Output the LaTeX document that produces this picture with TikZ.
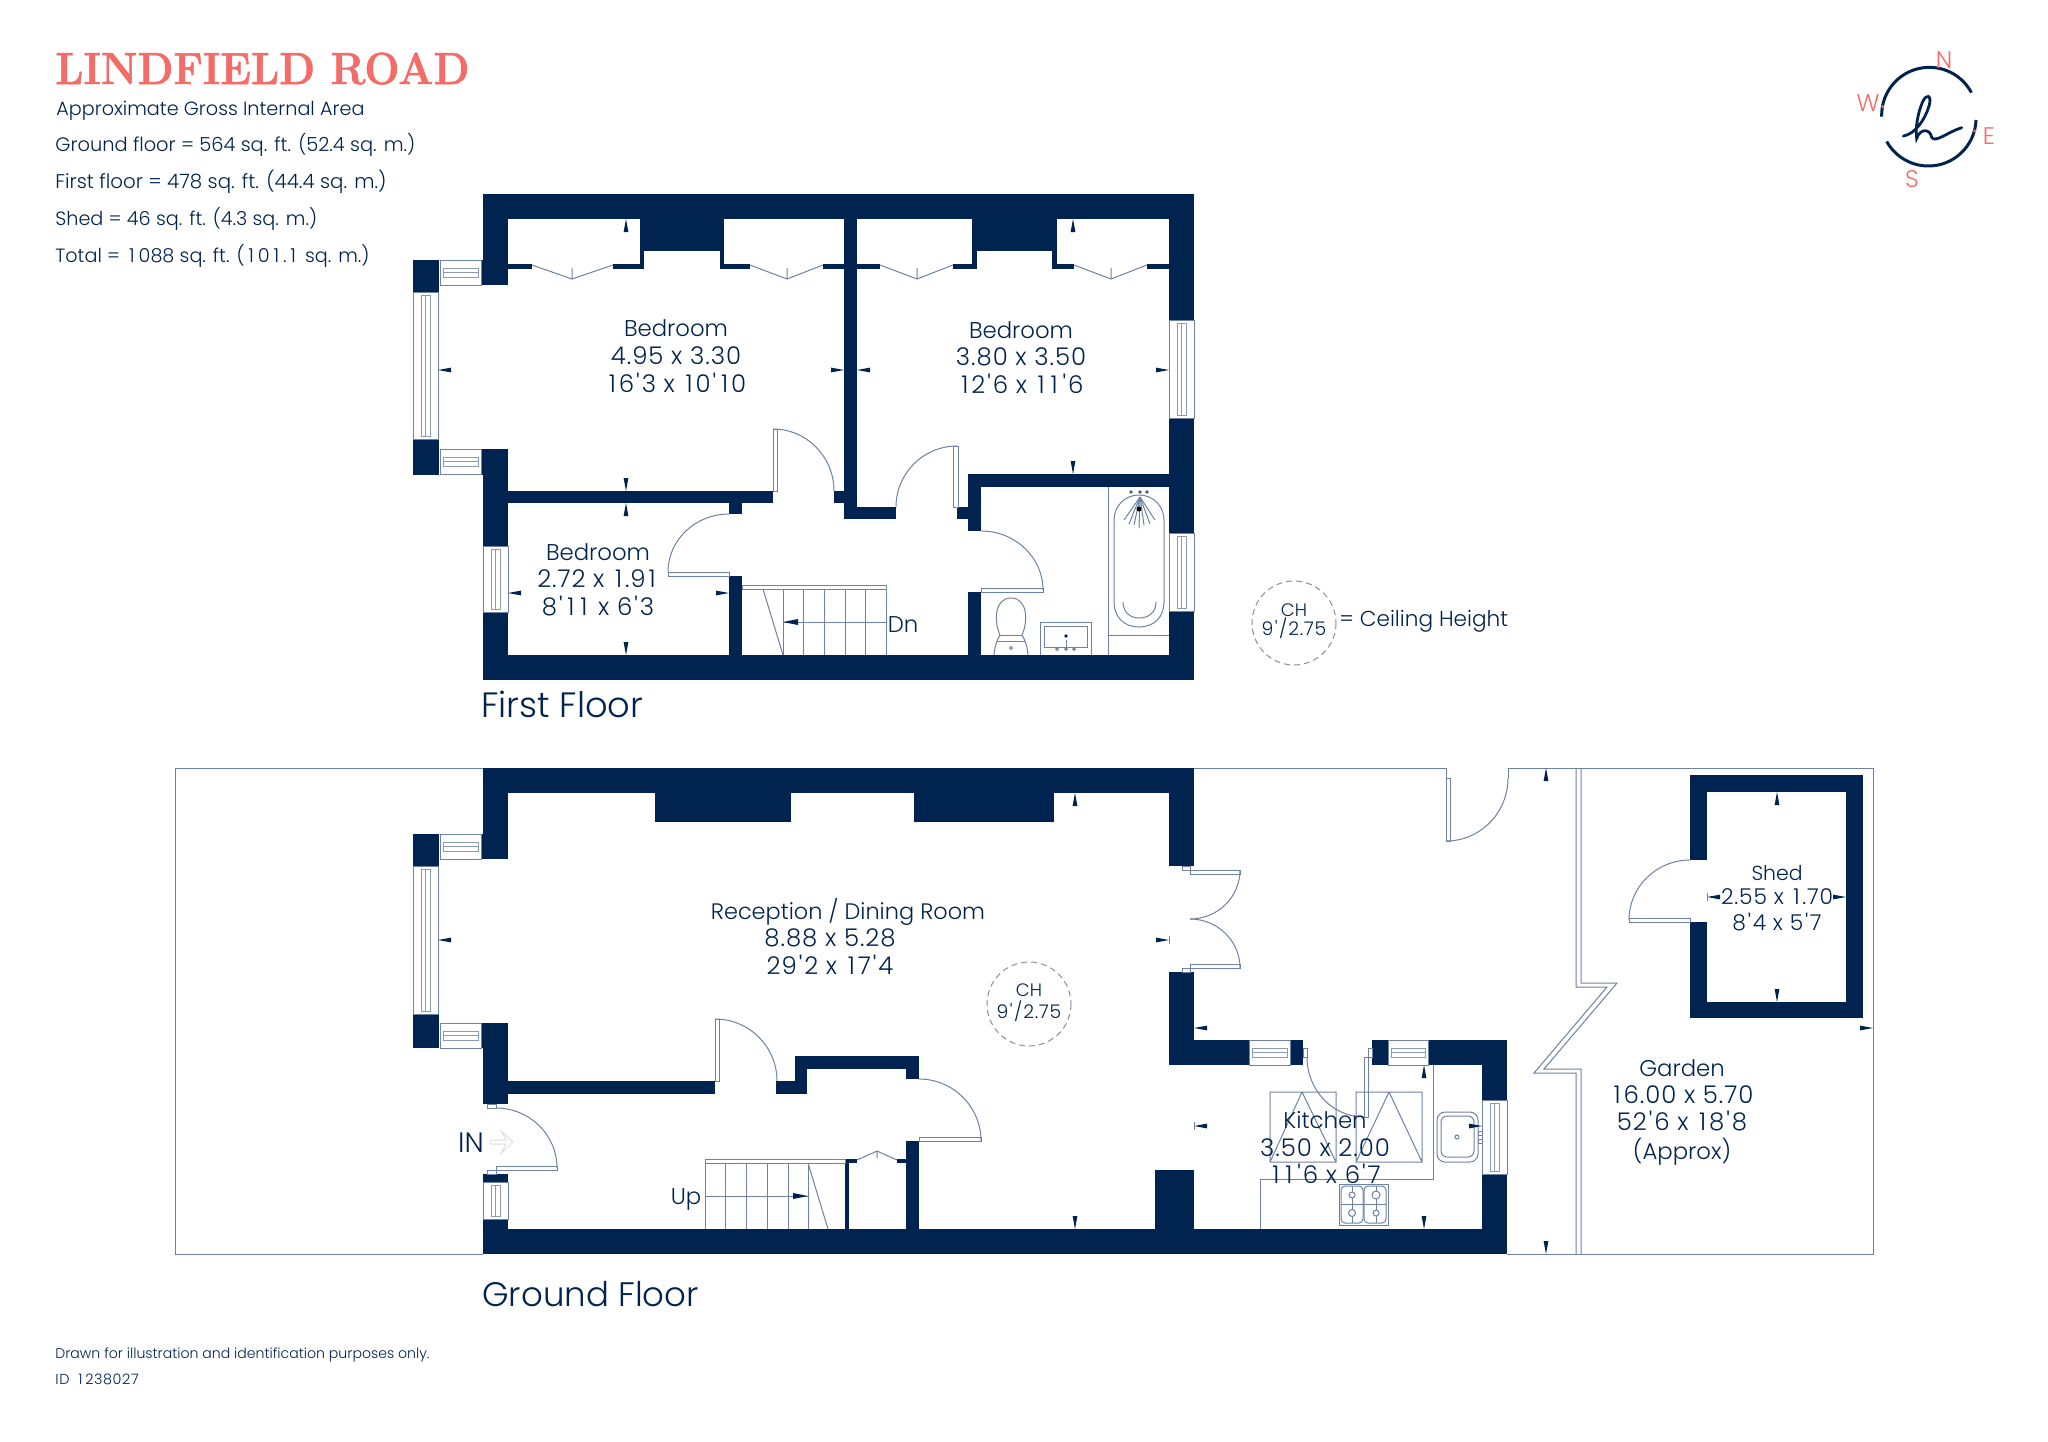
\documentclass[tikz,border=0pt]{standalone}
\usepackage{fontspec}
\setmainfont{Poppins}[UprightFont=* Light,Ligatures=TeXOff]
\newfontfamily\titlefont{Latin Modern Roman}[BoldFeatures={FakeBold=1.2}]
\newfontfamily\numf{Poppins}[UprightFont=* Light,Ligatures=TeXOff,LetterSpace=4]
\newcommand\oo{\kern.12em 1\kern.12em}
\newcommand\oi{\kern.2em 1\kern.2em}
\newcommand\pr{\kern.08em'\kern.08em}
\definecolor{navy}{HTML}{01234F}
\definecolor{thin}{HTML}{6E82A3}
\definecolor{coral}{HTML}{F36C67}
\definecolor{ringgrey}{HTML}{8A8F98}
\tikzset{
 wall/.style={fill=navy,draw=none},
 fine/.style={draw=thin,line width=0.5pt},
 finew/.style={draw=thin,line width=0.5pt,fill=white},
 winline/.style={draw=thin!80,line width=0.5pt},
 lab/.style={inner sep=0,anchor=base,text=navy,font=\fontsize{11.4}{13}\selectfont},
 labn/.style={inner sep=0,anchor=base,text=navy,font=\numf\fontsize{12.2}{14}\selectfont},
 labsm/.style={inner sep=0,anchor=base,text=navy,font=\fontsize{10.2}{12}\selectfont},
 labsn/.style={inner sep=0,anchor=base,text=navy,font=\numf\fontsize{10.9}{12}\selectfont},
 info/.style={inner sep=0,anchor=base west,text=navy,font=\fontsize{9.6}{11}\selectfont},
 foot/.style={inner sep=0,anchor=base west,text=navy,font=\fontsize{7.05}{9}\selectfont},
 floorname/.style={inner sep=0,anchor=base west,text=navy,font=\fontsize{17}{20}\selectfont},
 compassl/.style={inner sep=0,text=coral,font=\fontsize{12}{14}\selectfont},
 chl/.style={inner sep=0,text=navy,font=\fontsize{9}{10}\selectfont},
 chn/.style={inner sep=0,text=navy,font=\numf\fontsize{9.4}{10}\selectfont},
 chring/.style={draw=ringgrey,line width=0.5pt,dash pattern=on 3pt off 2pt},
}
\newcommand\wl[4]{\fill[wall] (#1,#2) rectangle (#3,#4);}
\newcommand\leaf[4]{\draw[finew] (#1,#2) rectangle (#3,#4);}
% door swing: centre, start vector, end vector
\newcommand\swing[6]{\draw[fine] ({#1+#3},{#2+#4}) .. controls ({#1+#3+.5523*#5},{#2+#4+.5523*#6}) and ({#1+#5+.5523*#3},{#2+#6+.5523*#4}) .. ({#1+#5},{#2+#6});}
\newcommand\hwin[4]{\draw[finew] (#1,#2) rectangle (#3,#4);
  \draw[winline] ({#1+3},{#2+8}) rectangle ({#3-3},{#4-8}) ({#1+3},{(#2+#4)/2}) -- ({#3-3},{(#2+#4)/2});}
\newcommand\vwin[4]{\draw[finew] (#1,#2) rectangle (#3,#4);
  \draw[winline] ({#1+8},{#2+3}) rectangle ({#3-8},{#4-3}) ({(#1+#3)/2},{#2+3}) -- ({(#1+#3)/2},{#4-3});}
\newcommand\tku[2]{\fill[navy] (#1,#2) -- ({#1+2.4},{#2+13}) -- ({#1-2.4},{#2+13}) -- cycle;}
\newcommand\tkd[2]{\fill[navy] (#1,#2) -- ({#1+2.4},{#2-13}) -- ({#1-2.4},{#2-13}) -- cycle;}
\newcommand\tkl[2]{\fill[navy] (#1,#2) -- ({#1+13},{#2+2.4}) -- ({#1+13},{#2-2.4}) -- cycle;}
\newcommand\tkr[2]{\fill[navy] (#1,#2) -- ({#1-13},{#2+2.4}) -- ({#1-13},{#2-2.4}) -- cycle;}
\newcommand\bifold[3]{\draw[fine] (#1,265) -- (#2,279) -- (#3,265) (#2,279) -- (#2,268);}
\begin{document}
\begin{tikzpicture}[x=0.5pt,y=-0.5pt]
\useasboundingbox (0,0) rectangle (2048,1441);
\fill[white] (0,0) rectangle (2048,1441);

% ---------- plot boundary
\draw[fine] (483,768) -- (175,768) -- (175,1254) -- (483,1254);
\draw[fine] (1194,768) -- (1446,768) -- (1446,841);
\draw[fine] (1508,778) -- (1508,768) -- (1873,768) -- (1873,1254) -- (1507,1254);
\draw[fine] (1581,768) -- (1581,983) -- (1617,983) -- (1544,1069) -- (1581,1069) -- (1581,1254);
\draw[fine] (1576,768) -- (1576,987) -- (1607,987) -- (1534,1073) -- (1576,1073) -- (1576,1254);

% ---------- first floor walls
\wl{483}{194}{1194}{219}
\wl{483}{219}{508}{285}
\wl{481}{260}{508}{285}
\wl{413}{260}{439}{292}
\wl{413}{439}{439}{475}
\wl{481}{449}{508}{475}
\wl{483}{475}{508}{546}
\wl{483}{612}{508}{680}
\wl{483}{655}{1194}{680}
\wl{1169}{194}{1194}{320}
\wl{1169}{418}{1194}{533}
\wl{1169}{611}{1194}{680}
\wl{844}{219}{857}{519}
\wl{857}{507}{896}{519}
\wl{834}{491}{844}{503}
\wl{508}{491}{773}{503}
\wl{729}{503}{742}{514}
\wl{729}{576}{742}{655}
\wl{640}{219}{724}{251}
\wl{640}{251}{644}{269}
\wl{720}{251}{724}{269}
\wl{972}{219}{1057}{251}
\wl{972}{251}{977}{269}
\wl{1052}{251}{1057}{269}
\wl{508}{264}{532}{269}
\wl{613}{264}{644}{269}
\wl{720}{264}{750}{269}
\wl{823}{264}{844}{269}
\wl{857}{264}{880}{269}
\wl{953}{264}{977}{269}
\wl{1052}{264}{1074}{269}
\wl{1147}{264}{1169}{269}
\wl{968}{474}{1169}{487}
\wl{968}{474}{981}{531}
\wl{957}{507}{981}{519}
\wl{968}{592}{981}{655}

% ---------- ground floor walls
\wl{483}{768}{1194}{793}
\wl{483}{793}{508}{859}
\wl{481}{834}{508}{859}
\wl{413}{834}{439}{866}
\wl{413}{1014}{439}{1048}
\wl{481}{1023}{508}{1048}
\wl{483}{1048}{508}{1104}
\wl{508}{1081}{715}{1094}
\wl{776}{1081}{807}{1094}
\wl{795}{1056}{807}{1081}
\wl{795}{1056}{919}{1069}
\wl{906}{1069}{919}{1079}
\wl{906}{1141}{919}{1229}
\wl{845}{1159}{849}{1229}
\wl{849}{1159}{857}{1163}
\wl{897}{1159}{906}{1163}
\wl{483}{1174}{508}{1182}
\wl{483}{1219}{508}{1254}
\wl{483}{1229}{1507}{1254}
\wl{655}{793}{791}{822}
\wl{914}{793}{1054}{822}
\wl{1169}{768}{1194}{866}
\wl{1169}{972}{1194}{1065}
\wl{1169}{1040}{1249}{1065}
\wl{1290}{1040}{1303}{1065}
\wl{1372}{1040}{1388}{1065}
\wl{1428}{1040}{1507}{1065}
\wl{1482}{1065}{1507}{1100}
\wl{1482}{1174}{1507}{1254}
\wl{1155}{1170}{1194}{1229}

% ---------- shed walls
\wl{1690}{775}{1863}{792}
\wl{1690}{1002}{1863}{1018}
\wl{1690}{775}{1707}{860}
\wl{1690}{922}{1707}{1018}
\wl{1846}{775}{1863}{1018}

% ---------- windows
\hwin{440}{260}{481}{285}
\vwin{413}{292}{438}{439}
\hwin{440}{449}{481}{474}
\vwin{483}{546}{508}{612}
\vwin{1169}{320}{1194}{418}
\vwin{1169}{533}{1194}{611}
\hwin{440}{834}{481}{859}
\vwin{413}{866}{438}{1014}
\hwin{440}{1023}{481}{1048}
\vwin{483}{1182}{508}{1219}
\hwin{1249}{1040}{1290}{1065}
\hwin{1388}{1040}{1428}{1065}
\vwin{1482}{1100}{1507}{1174}

% ---------- wardrobes
\bifold{532}{572}{613}
\bifold{750}{787}{823}
\bifold{880}{917}{953}
\bifold{1074}{1111}{1147}
\draw[fine] (857,1160) -- (877,1151) -- (897,1160) (877,1151) -- (877,1158);

% ---------- doors
\leaf{773}{429}{777}{491} \swing{773}{491}{0}{-62}{61}{0}
\leaf{668}{572}{729}{576} \swing{729}{572}{0}{-58}{-61}{0}
\leaf{953}{446}{958}{507} \swing{957}{507}{-61}{0}{0}{-61}
\leaf{981}{588}{1043}{592} \swing{981}{590}{0}{-59}{62}{0}
\leaf{715}{1019}{719}{1081} \swing{715}{1081}{0}{-62}{62}{0}
\leaf{487}{1104}{496}{1108} \leaf{496}{1166}{557}{1170} \leaf{487}{1170}{496}{1174}
\swing{496}{1168}{0}{-60}{61}{0}
\leaf{919}{1137}{981}{1141} \swing{919}{1141}{0}{-62}{62}{0}
\leaf{1182}{866}{1190}{870} \leaf{1190}{870}{1240}{874} \swing{1190}{870}{50}{0}{0}{49}
\leaf{1182}{968}{1190}{972} \leaf{1190}{964}{1240}{968} \swing{1190}{968}{0}{-49}{50}{0}
\leaf{1303}{1048}{1307}{1057} \swing{1364}{1057}{-57}{0}{0}{60}
\leaf{1364}{1057}{1368}{1117} \leaf{1368}{1048}{1372}{1057}
\leaf{1446}{778}{1450}{841} \swing{1446}{778}{0}{63}{62}{0}
\leaf{1629}{918}{1690}{922} \swing{1690}{920}{0}{-60}{-61}{0}

% ---------- first floor stairs
\draw[fine] (742,585) rectangle (886,589);
\foreach \sx in {783,803,824,845,865,886} {\draw[fine] (\sx,589) -- (\sx,655);}
\draw[fine] (763,589) -- (783,655);
\draw[fine] (783,622) -- (886,622);
\fill[navy] (783,622) -- (798,619) -- (798,625) -- cycle;

% ---------- ground floor stairs
\draw[fine] (705,1159) rectangle (845,1163);
\foreach \sx in {705,725,746,767,788,808} {\draw[fine] (\sx,1163) -- (\sx,1229);}
\draw[fine] (808,1163) -- (828,1229);
\draw[fine] (705,1196) -- (808,1196);
\fill[navy] (808,1196) -- (793,1193) -- (793,1199) -- cycle;

% ---------- bathroom
\draw[fine] (1108,487) -- (1108,655) (1108,635) -- (1169,635);
\draw[fine] (1139,495) .. controls (1124,495) and (1114,507) .. (1114,520) -- (1114,602)
  .. controls (1114,617) and (1124,627) .. (1139,627) .. controls (1154,627) and (1164,617) .. (1164,602)
  -- (1164,520) .. controls (1164,507) and (1154,495) .. (1139,495);
\draw[fine] (1123,602) .. controls (1123,612) and (1130,618) .. (1139,618) .. controls (1149,618) and (1156,612) .. (1156,602);
\foreach \dx in {1131,1140,1147} {\fill[thin!60!navy] (\dx,492) circle (1.8);}
\foreach \ex/\ey in {1124/520,1129/524,1134/525,1139/528,1144/525,1150/524,1155/520} {\draw[fine] (1140,497) -- (\ex,\ey);}
\fill[thin] (1139,509) circle (2.5);
% toilet
\draw[fine] (1000,635) .. controls (994,622) and (994,598) .. (1011,598) .. controls (1028,598) and (1028,622) .. (1022,635);
\draw[fine] (1000,635) -- (1022,635) (997,641) -- (1025,641);
\draw[fine] (994,655) .. controls (995,645) and (997,640) .. (1000,635) (1028,655) .. controls (1027,645) and (1025,640) .. (1022,635);
\draw[fine] (1011,648) circle (1.5);
% basin
\draw[fine] (1040,655) -- (1040,622) -- (1091,622) -- (1091,655);
\draw[fine] (1044,626) rectangle (1087,647);
\fill[navy] (1066,636) circle (1.8);
\draw[fine] (1066,640) -- (1066,649);
\foreach \dx in {1057,1066,1074} {\draw[fine] (\dx,649) circle (1.3);}

% ---------- kitchen
\draw[fine] (1260,1229) -- (1260,1179) -- (1433,1179) -- (1433,1065);
\draw[fine] (1270,1092) rectangle (1336,1162) (1302,1092) -- (1270,1162) (1302,1092) -- (1336,1162);
\draw[fine] (1356,1092) rectangle (1422,1162) (1389,1092) -- (1356,1162) (1389,1092) -- (1422,1162);
\draw[fine] (1339,1184) rectangle (1388,1225);
\draw[fine,rounded corners=2pt] (1341,1186) rectangle (1363,1223);
\draw[fine,rounded corners=2pt] (1364,1186) rectangle (1386,1223);
\draw[fine] (1352,1186) -- (1352,1223) (1376,1186) -- (1376,1223) (1341,1204) -- (1386,1204);
\foreach \bx/\by/\br in {1352/1195/3,1376/1195/4,1352/1213/3.5,1376/1213/3} {\draw[finew] (\bx,\by) circle (\br);}
\draw[fine,rounded corners=4pt] (1437,1112) rectangle (1478,1162);
\draw[fine,rounded corners=3pt] (1441,1116) rectangle (1474,1157);
\draw[fine] (1457,1137) circle (2);
\draw[fine] (1478,1131) rectangle (1482,1135) (1478,1139) rectangle (1482,1143);

% ---------- dimension ticks
\tku{626}{219} \tkd{626}{491} \tku{626}{503} \tkd{626}{655}
\tkl{438}{370} \tkr{844}{370} \tkl{857}{370} \tkr{1169}{370}
\tku{1073}{219} \tkd{1073}{474}
\tkl{508}{593} \tkr{729}{593}
\tku{1075}{793} \tkd{1075}{1229} \tkl{438}{940}
\tkr{1169}{940} \draw[fine] (1169,936) -- (1169,944);
\tkl{1194}{1028}
\tkl{1194}{1126} \draw[fine] (1194,1122) -- (1194,1130);
\tku{1424}{1065} \tkd{1424}{1229} \tkr{1482}{1126}
\tku{1546}{768} \tkd{1546}{1254}
\tku{1777}{792} \tkd{1777}{1002}
\tkl{1707}{897} \draw[fine] (1707,893) -- (1707,901);
\tkr{1846}{897}
\tkr{1873}{1028} \draw[fine] (1873,1024) -- (1873,1032);

% ---------- entry arrow
\draw[gray!25,line width=0.5pt] (490,1140) -- (506,1140) -- (501,1131) -- (513,1142) -- (501,1154) -- (506,1144) -- (490,1144) -- cycle;

% ---------- ceiling height rings
\draw[chring] (1294,623) circle (42);
\draw[chring] (1029,1004) circle (42);

% ---------- compass
\begin{scope}[shift={(1840,30)},x=0.16667pt,y=-0.16667pt]
\draw[navy,line width=1.5pt] (408,270) arc[start angle=2,end angle=151,radius=143];
\draw[navy,line width=1.5pt] (125,260) arc[start angle=178,end angle=332,radius=143];
\draw[navy,line width=1.4pt,line cap=round] (190,318) .. controls (225,312) and (255,270) .. (268,225)
  .. controls (275,195) and (260,190) .. (248,215) .. controls (235,245) and (225,290) .. (230,325)
  .. controls (240,295) and (270,295) .. (275,322) .. controls (285,340) and (325,305) .. (365,293);
\fill[coral] (128,230) circle (5) (404,303) circle (5);
\end{scope}
\node[compassl] (cn) at (1944,60) {N};
\node[compassl] (cw) at (1868,103) {W};
\node[compassl] (ce) at (1989,136) {E};
\node[compassl] (cs) at (1912,179) {S};

% ---------- header text
\node[inner sep=0,anchor=base west,text=coral] (title) at (55,84) {\scalebox{.925}[1]{\titlefont\bfseries\fontsize{22.5}{24}\selectfont LINDFIELD ROAD}};
\node[info] (i0) at (56,115) {Approximate Gross Internal Area};
\node[info,font=\fontsize{9.7}{11}\selectfont] (i1) at (55,151) {Ground floor = 564 sq. ft. (52.4 sq. m.)};
\node[info,font=\fontsize{9.9}{11}\selectfont] (i2) at (55,188) {First floor = 478 sq. ft. (44.4 sq. m.)};
\node[info] (i3) at (55,225) {Shed = 46 sq. ft. (4.3 sq. m.)};
\node[info] (i4) at (55,262) {Total = \oi 088 sq. ft. (\oi 0\oi.\oi{} sq. m.)};

% ---------- room labels
\node[lab] (b1a) at (676,336) {Bedroom};
\node[labn] (b1b) at (676,364) {4.95 x 3.30};
\node[labn] (b1c) at (676,392) {\oo 6\pr 3 x \oo 0\pr\oo 0};
\node[lab] (b2a) at (1021,338) {Bedroom};
\node[labn] (b2b) at (1021,365) {3.80 x 3.50};
\node[labn] (b2c) at (1021,393) {\oo 2\pr 6 x \oo\oo\pr 6};
\node[lab] (b3a) at (598,560) {Bedroom};
\node[labn] (b3b) at (598,587) {2.72 x \oo.9\oo};
\node[labn] (b3c) at (598,615) {8\pr\oo\oo{} x 6\pr 3};
\node[lab] (dn) at (903,632) {Dn};
\node[lab] (up) at (686,1204) {Up};
\node[lab,font=\fontsize{14}{16}\selectfont] (in) at (471,1152) {IN};
\node[lab,font=\fontsize{11.2}{13}\selectfont] (ra) at (848,919) {Reception / Dining Room};
\node[labn] (rb) at (830,946) {8.88 x 5.28};
\node[labn] (rc) at (830,974) {29\pr 2 x \oo 7\pr 4};
\node[lab] (ka) at (1325,1128) {Kitchen};
\node[labn] (kb) at (1325,1156) {3.50 x 2.00};
\node[labn] (kc) at (1325,1183) {\oo\oo\pr 6 x 6\pr 7};
\node[lab] (ga) at (1682,1076) {Garden};
\node[labn] (gb) at (1682,1103) {\oo 6.00 x 5.70};
\node[labn] (gc) at (1682,1130) {52\pr 6 x \oo 8\pr 8};
\node[lab] (gd) at (1682,1159) {(Approx)};
\node[labsm] (sa) at (1777,880) {Shed};
\node[labsn] (sb) at (1777,904) {2.55 x \oo.70};
\node[labsn] (sc) at (1777,930) {8\pr 4 x 5\pr 7};

% ---------- ceiling height text
\node[chl] (ch1) at (1294,610) {CH};
\node[chn] (ch1b) at (1294,628) {9\pr/2.75};
\node[chl] (ch2) at (1029,990) {CH};
\node[chn] (ch2b) at (1029,1011) {9\pr/2.75};
\node[lab,anchor=base west,font=\fontsize{10.8}{13}\selectfont] (chk) at (1339,626) {= Ceiling Height};

% ---------- floor names and footer
\node[floorname,font=\fontsize{17.6}{20}\selectfont] (ff) at (481,717) {First Floor};
\node[floorname] (gf) at (482,1306) {Ground Floor};
\node[foot] (f1) at (55,1358) {Drawn for illustration and identification purposes only.};
\node[foot,font=\numf\fontsize{7.2}{9}\selectfont] (f2) at (55,1384) {ID\kern.1em\ \oi 238027};
\end{tikzpicture}
\end{document}
